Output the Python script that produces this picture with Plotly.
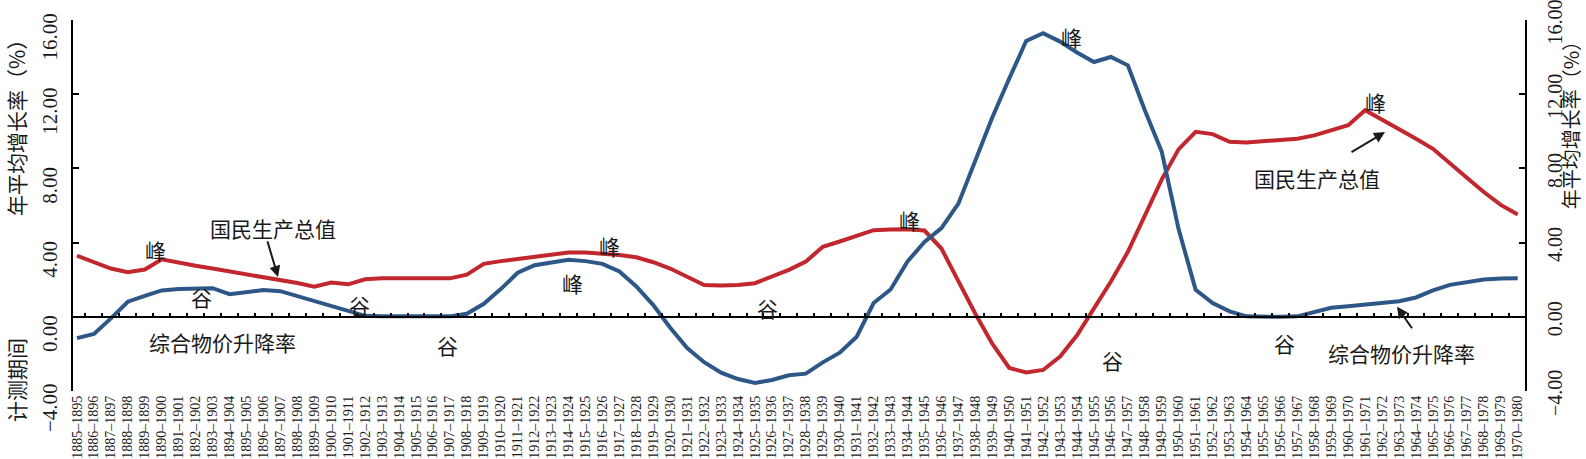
import plotly.graph_objects as go

# ---------------- data ----------------
START_YEARS = list(range(1885, 1971))
PERIODS = [f"{y}–{y + 10}" for y in START_YEARS]

GNP = [3.29, 2.95, 2.60, 2.40, 2.55, 3.10, 2.90, 2.75, 2.60, 2.45,
       2.30, 2.12, 1.97, 1.82, 1.62, 1.85, 1.75, 2.02, 2.07, 2.07,
       2.07, 2.07, 2.07, 2.27, 2.85, 3.00, 3.12, 3.24, 3.36, 3.47,
       3.46, 3.40, 3.33, 3.21, 2.94, 2.60, 2.17, 1.71, 1.69, 1.71,
       1.81, 2.19, 2.53, 2.98, 3.77, 4.06, 4.36, 4.67, 4.70, 4.72,
       4.65, 3.68, 1.92, 0.16, -1.45, -2.76, -3.00, -2.87, -2.15, -1.00,
       0.45, 1.90, 3.50, 5.43, 7.41, 9.04, 9.97, 9.85, 9.44, 9.40,
       9.45, 9.53, 9.60, 9.78, 10.08, 10.33, 11.14, 10.64, 10.16, 9.60,
       9.06, 8.25, 7.50, 6.73, 6.03, 5.52]

PRICE = [-1.15, -0.93, -0.09, 0.81, 1.13, 1.42, 1.49, 1.49, 1.54, 1.22,
         1.31, 1.44, 1.38, 1.11, 0.84, 0.56, 0.27, 0.05, 0.02, 0.02,
         0.02, 0.02, 0.02, 0.16, 0.70, 1.49, 2.37, 2.78, 2.94, 3.07,
         3.00, 2.85, 2.44, 1.63, 0.63, -0.59, -1.69, -2.45, -3.02, -3.36,
         -3.57, -3.41, -3.16, -3.07, -2.46, -1.94, -1.08, 0.74, 1.47, 2.98,
         4.04, 4.78, 6.10, 8.49, 10.75, 12.85, 14.87, 15.29, 14.84, 14.25,
         13.74, 14.01, 13.56, 11.14, 8.90, 4.70, 1.45, 0.74, 0.29, 0.02,
         0.00, 0.00, 0.02, 0.25, 0.48, 0.57, 0.66, 0.75, 0.84, 1.04,
         1.42, 1.72, 1.89, 2.01, 2.06, 2.08]

Y_TICKS = [-4, 0, 4, 8, 12, 16]
Y_TICK_TEXT = ["\u22124.00", "0.00", "4.00", "8.00", "12.00", "16.00"]

# annotations: (text, x index, y value)
LABELS = [
    ("峰", 4.66, 3.61), ("国民生产总值", 11.56, 4.79), ("谷", 7.37, 1.08),
    ("综合物价升降率", 8.61, -1.35), ("谷", 16.64, 0.65), ("谷", 21.83, -1.51),
    ("峰", 31.39, 3.82), ("峰", 29.26, 1.83), ("谷", 40.71, 0.48),
    ("峰", 49.14, 5.22), ("谷", 61.12, -2.31), ("峰", 58.70, 15.07),
    ("峰", 76.58, 11.57), ("国民生产总值", 73.16, 7.48), ("谷", 71.27, -1.40),
    ("综合物价升降率", 78.17, -1.94),
]
# arrows: (head x index, head y value, tail dx px, tail dy px)
ARROWS = [(11.86, 2.15, -11, -37), (77.17, 9.96, -35, 21), (77.88, 0.54, 16, 23)]

RED = "#C1272D"
BLUE = "#2D5786"
SERIF = "Liberation Serif, Noto Sans CJK SC, serif"
CJK = "Noto Sans CJK SC, sans-serif"
XR = [-0.236, 85.43]
YR = [-4.005, 16.005]

fig = go.Figure()
fig.add_trace(go.Scatter(x=PERIODS, y=GNP, mode="lines", name="国民生产总值",
                         line=dict(color=RED, width=4), xaxis="x", yaxis="y"))
fig.add_trace(go.Scatter(x=PERIODS, y=PRICE, mode="lines", name="综合物价升降率",
                         line=dict(color=BLUE, width=4), xaxis="x2", yaxis="y2"))

ann = []
for t, x, y in LABELS:
    ann.append(dict(text=t, x=x, y=y, xref="x", yref="y", showarrow=False,
                    xanchor="center", yanchor="middle",
                    font=dict(family=CJK, size=21, color="#1a1a1a")))
for x, y, ax, ay in ARROWS:
    ann.append(dict(text="", x=x, y=y, xref="x", yref="y", showarrow=True,
                    ax=ax, ay=ay, arrowhead=2, arrowsize=1.1, arrowwidth=2,
                    arrowcolor="#1a1a1a"))
for t, x, y, s in [("年平均增长率（%）", -0.0392, 0.7226, 21), ("计测期间", -0.0392, 0.03, 21),
                   ("年平均增长率（%）", 1.0313, 0.7307, 20)]:
    ann.append(dict(text=t, x=x, y=y, xref="paper", yref="paper", textangle=-90,
                    xanchor="center", yanchor="middle", showarrow=False,
                    font=dict(family=CJK, size=s, color="#1a1a1a")))

common_y = dict(range=YR, tickmode="array", tickvals=Y_TICKS, ticktext=Y_TICK_TEXT,
                tickangle=-90, ticks="inside", ticklen=6, tickwidth=2, tickcolor="black",
                showline=True, linewidth=2, linecolor="black", showgrid=False,
                zeroline=False, automargin=False, ticklabeloverflow="allow")

fig.update_layout(
    width=1586, height=459,
    margin=dict(l=73, r=61, t=20, b=68),
    paper_bgcolor="white", plot_bgcolor="white",
    showlegend=False,
    xaxis=dict(type="category", range=XR, tickangle=-90, ticks="", showline=False,
               tickmode="array", tickvals=PERIODS, ticktext=PERIODS,
               showgrid=False, zeroline=False, automargin=False, anchor="y",
               ticklabelstandoff=1,
               tickfont=dict(family=SERIF, size=14, color="#1a1a1a")),
    xaxis2=dict(type="category", range=XR, overlaying="x", anchor="free", position=0.2,
                showticklabels=False, showline=True, linewidth=2, linecolor="black",
                ticks="inside", ticklen=3, tickwidth=1.5, tickcolor="black",
                tickson="boundaries", showgrid=False, zeroline=False, automargin=False),
    yaxis=dict(**common_y, side="left", anchor="x", ticklabelstandoff=6, ticklabelshift=20,
               tickfont=dict(family=SERIF, size=21, color="#1a1a1a")),
    yaxis2=dict(**common_y, side="right", overlaying="y", anchor="x", ticklabelstandoff=11,
                ticklabelshift=5, tickfont=dict(family=SERIF, size=20, color="#1a1a1a")),
    annotations=ann,
)

fig.write_html("out.html")
